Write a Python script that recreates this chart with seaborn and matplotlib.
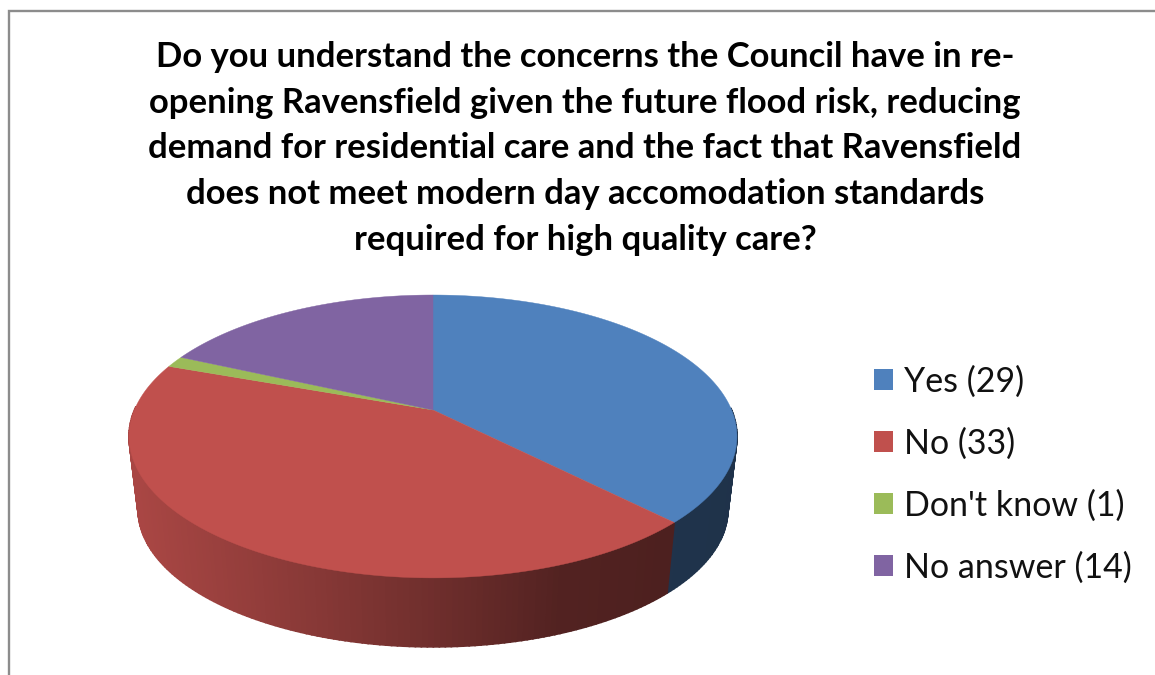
import numpy as np
import matplotlib
matplotlib.use("Agg")
import matplotlib.pyplot as plt
from matplotlib.patches import Patch
import seaborn as sns

# Survey responses
categories = ["Yes", "No", "Don't know", "No answer"]
counts = [29, 33, 1, 14]
slice_colors = ["#4f81bd", "#c0504d", "#9bbb59", "#8064a2"]
question = ("Do you understand the concerns the Council have in re-\n"
            "opening Ravensfield given the future flood risk, reducing\n"
            "demand for residential care and the fact that Ravensfield\n"
            "does not meet modern day accomodation standards\n"
            "required for high quality care?")

sns.set_theme(style="white")
plt.rcParams["font.family"] = ["Lato", "DejaVu Sans"]
palette = sns.color_palette(slice_colors)

# Pie geometry in pixel-like axes units, with a perspective tilt
CX, CY = 433.0, 410.0
A, B, K = 298.6, 136.5, 0.187
LOWER_SCALE, LOWER_DROP = 0.97, 74.0


def rim(theta, scale=1.0, drop=0.0):
    """Project pie angles (radians, counter-clockwise) onto the tilted disc."""
    w = 1 + K * np.sin(theta)
    x = CX + scale * A * np.cos(theta) / w
    y = CY + drop - scale * B * np.sin(theta) / w
    return x, y


def side_shade(x):
    """Brightness of the pie wall, fading from left to right."""
    return np.interp(x, [135, 300, 450, 560, 670, 740],
                     [0.88, 0.72, 0.56, 0.43, 0.40, 0.39])


fig, ax = plt.subplots(figsize=(11.55, 6.75), dpi=100)
fig.subplots_adjust(0, 0, 1, 1)
ax.set_xlim(0, 1155)
ax.set_ylim(675, 0)
ax.axis("off")

# Outer chart border, cut off by the canvas on the right and bottom
ax.plot([8.5, 8.5, 1155], [675, 10.5, 10.5], color="#8c8c8c", lw=1.7,
        solid_joinstyle="miter", zorder=1)

# Slices run clockwise from twelve o'clock
edges = np.cumsum([0] + counts) / sum(counts) * 2 * np.pi
start_angles = np.pi / 2 - edges[:-1]
end_angles = np.pi / 2 - edges[1:]

# Pie wall: only the part of each slice on the front half of the disc
for t0, t1, color in zip(start_angles, end_angles, palette):
    steps = np.linspace(t0, t1, max(int(abs(t1 - t0) * 60), 2))
    for a, b in zip(steps[:-1], steps[1:]):
        if np.sin((a + b) / 2) > 0.02:
            continue
        xt, yt = rim(np.array([a, b]))
        xb, yb = rim(np.array([b, a]), LOWER_SCALE, LOWER_DROP)
        shade = side_shade(xt.mean())
        rgb = tuple(c * shade for c in color)
        ax.fill(np.r_[xt, xb], np.r_[yt, yb], color=rgb, lw=1.2, zorder=2)

# Top face
for t0, t1, color in zip(start_angles, end_angles, palette):
    steps = np.linspace(t0, t1, 200)
    xs, ys = rim(steps)
    ax.fill(np.r_[CX, xs], np.r_[CY, ys], color=color, lw=0.3, zorder=3)

ax.text(585, 148.5, question, ha="center", va="center", fontsize=24.9,
        fontweight="bold", color="black", linespacing=1.52, zorder=4)

handles = [Patch(facecolor=c, edgecolor="none") for c in palette]
labels = [f"{name} ({n})" for name, n in zip(categories, counts)]
ax.legend(handles, labels, loc="upper left", bbox_to_anchor=(860, 352),
          bbox_transform=ax.transData, frameon=False, fontsize=24.5,
          handlelength=0.58, handleheight=0.58, handletextpad=0.3,
          labelspacing=0.87, borderpad=0.4, borderaxespad=0, labelcolor="#111111")

sns.despine(ax=ax, left=True, bottom=True)
fig.savefig("out.png", dpi=100, facecolor="white")
